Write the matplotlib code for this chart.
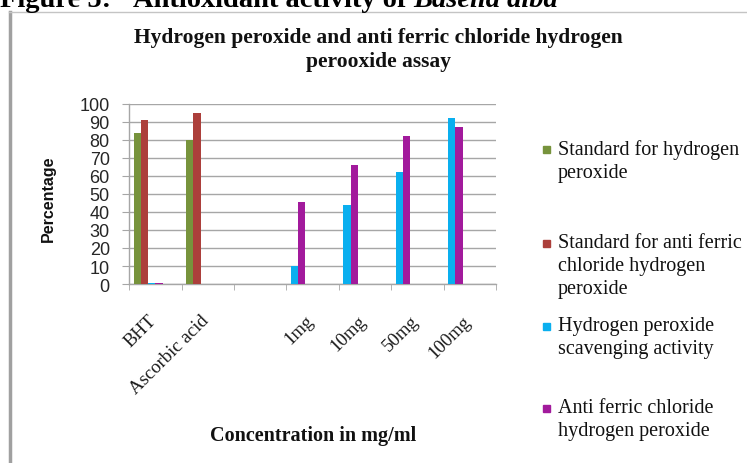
import matplotlib
matplotlib.use('Agg')
import matplotlib.pyplot as plt
import matplotlib.transforms as mtransforms
from matplotlib.lines import Line2D
from matplotlib.patches import Rectangle
import numpy as np

# ------------------------------------------------------------
# Data (percent)
# ------------------------------------------------------------
categories = ['BHT', 'Ascorbic acid', '', '1mg', '10mg', '50mg', '100mg']

std_h2o2        = [84, 80, np.nan, np.nan, np.nan, np.nan, np.nan]
std_anti_ferric = [91, 95, np.nan, np.nan, np.nan, np.nan, np.nan]
h2o2_scavenging = [0.5, np.nan, np.nan, 10, 44, 62, 92]
anti_ferric     = [0.5, np.nan, np.nan, 45.5, 66, 82, 87]

series_labels = ['Standard for hydrogen\nperoxide',
                 'Standard for anti ferric\nchloride hydrogen\nperoxide',
                 'Hydrogen peroxide\nscavenging activity',
                 'Anti ferric chloride\nhydrogen peroxide']
colors = ['#77933C', '#AC3F3B', '#0AAFEF', '#A21A9C']

serif = 'Liberation Serif'
sans = 'Liberation Sans'
W, H = 747, 464

fig = plt.figure(figsize=(W / 100, H / 100), dpi=100)
fig.patch.set_facecolor('white')

# plot area in pixel terms of the reference
ax = fig.add_axes([129.3 / W, 1 - 285 / H, (496 - 129.3) / W, 180 / H])

# ------------------------------------------------------------
# Bars: Excel style clusters, non-empty values packed from the left
# ------------------------------------------------------------
all_series = [std_h2o2, std_anti_ferric, h2o2_scavenging, anti_ferric]
n_slots = 6
width = 0.138
start = (1 - n_slots * width) / 2

for i in range(len(categories)):
    slot = 0
    for s, vals in enumerate(all_series):
        v = vals[i]
        if np.isnan(v):
            continue
        ax.bar(i - 0.5 + start + slot * width, v, width, align='edge',
               color=colors[s], linewidth=0, zorder=3)
        slot += 1

grid_col = '#A6A6A6'
ax.set_xlim(-0.5, len(categories) - 0.5)
ax.set_ylim(0, 100)
ax.set_yticks(np.arange(0, 101, 10))
ax.grid(axis='y', color=grid_col, linewidth=1)
ax.set_axisbelow(True)

for side in ['top', 'right']:
    ax.spines[side].set_visible(False)
for side in ['left', 'bottom']:
    ax.spines[side].set_color(grid_col)
    ax.spines[side].set_linewidth(1)

ax.tick_params(axis='y', direction='out', length=5, color=grid_col,
               labelsize=13, pad=9, labelcolor='#262626')
for lab in ax.get_yticklabels():
    lab.set_fontfamily(sans)

ax.set_xticks(np.arange(len(categories)))
ax.set_xticks(np.arange(len(categories) + 1) - 0.5, minor=True)
ax.tick_params(axis='x', which='major', length=0, pad=20)
ax.tick_params(axis='x', which='minor', length=4, color=grid_col)
ax.set_xticklabels(categories, rotation=45, ha='right',
                   fontfamily=serif, fontsize=13.5, color='#1a1a1a')
shift = mtransforms.ScaledTranslation(3 / 72, 0, fig.dpi_scale_trans)
for lab in ax.get_xticklabels():
    lab.set_transform(lab.get_transform() + shift)

# ------------------------------------------------------------
# Texts
# ------------------------------------------------------------
fig.text(378 / W, 1 - 50 / H,
         'Hydrogen peroxide and anti ferric chloride hydrogen\nperooxide assay',
         ha='center', va='center', fontsize=15.5, fontweight='bold',
         fontfamily=serif, linespacing=1.2, color='#111111')

fig.text(48 / W, 1 - 199 / H, 'Percentage', rotation=90, ha='center',
         va='center', fontsize=11.5, fontweight='bold', fontfamily=sans,
         color='#111111')

fig.text(313 / W, 1 - 436 / H, 'Concentration in mg/ml', ha='center',
         va='center', fontsize=14.5, fontweight='bold', fontfamily=serif,
         color='#111111')

# legend, built by hand to keep Excel's uneven spacing
legend_tops = [140, 234, 317, 399]
for lbl, col, top in zip(series_labels, colors, legend_tops):
    fig.patches.append(Rectangle((543 / W, 1 - (top + 14) / H), 7 / W, 7 / H,
                                 transform=fig.transFigure, color=col))
    fig.text(558 / W, 1 - top / H, lbl, ha='left', va='top', fontsize=14.5,
             fontfamily=serif, linespacing=1.3, color='#111111')

# frame of the chart area
fig.add_artist(Line2D([10 / W, 10 / W], [0, 1 - 13 / H],
                      transform=fig.transFigure, color='#A0A0A0', lw=2.5))
fig.add_artist(Line2D([9 / W, 1], [1 - 13 / H, 1 - 13 / H],
                      transform=fig.transFigure, color='#C4C4C4', lw=1))

# cropped figure heading at the very top
head_kw = dict(ha='left', va='baseline', fontsize=20.5, fontweight='bold',
               fontfamily=serif)
fig.text(0, 1 - 7 / H, 'Figure 5:', **head_kw)
head = fig.text(133 / W, 1 - 7 / H, 'Antioxidant activity of ', **head_kw)
fig.canvas.draw()
bb = head.get_window_extent()
fig.text(bb.x1 / W, 1 - 7 / H, 'Basella alba', fontstyle='italic', **head_kw)

fig.savefig('out.png', dpi=100)
